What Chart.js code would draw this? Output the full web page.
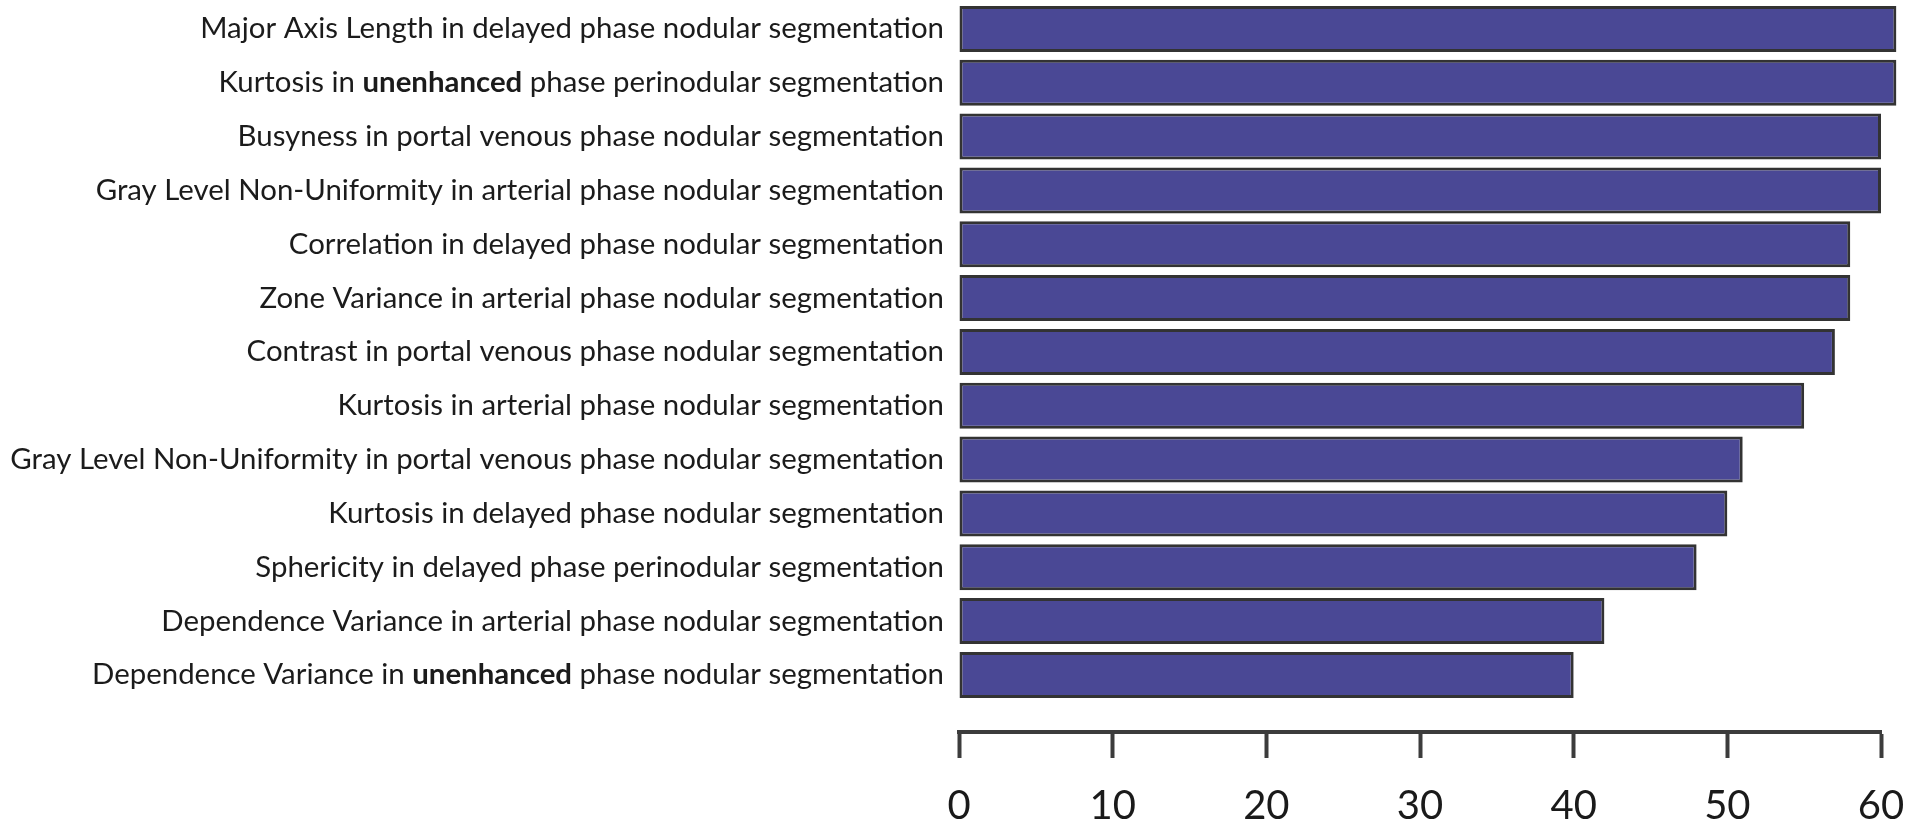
<!DOCTYPE html>
<html lang="en">
<head>
  <meta charset="UTF-8" />
  <title>Feature ranking</title>
  <script src="https://cdn.jsdelivr.net/npm/chart.js"></script>
  <style>
    html, body { margin: 0; padding: 0; background: #ffffff; }
    canvas { display: block; }
  </style>
</head>
<body>
  <canvas id="featureChart" width="1909" height="829"></canvas>

  <script>
    const featureLabels = [
      "Major Axis Length in delayed phase nodular segmentation",
      "Kurtosis in unenhanced phase perinodular segmentation",
      "Busyness in portal venous phase nodular segmentation",
      "Gray Level Non-Uniformity in arterial phase nodular segmentation",
      "Correlation in delayed phase nodular segmentation",
      "Zone Variance in arterial phase nodular segmentation",
      "Contrast in portal venous phase nodular segmentation",
      "Kurtosis in arterial phase nodular segmentation",
      "Gray Level Non-Uniformity in portal venous phase nodular segmentation",
      "Kurtosis in delayed phase nodular segmentation",
      "Sphericity in delayed phase perinodular segmentation",
      "Dependence Variance in arterial phase nodular segmentation",
      "Dependence Variance in unenhanced phase nodular segmentation"
    ];
    const featureValues = [61, 61, 60, 60, 58, 58, 57, 55, 51, 50, 48, 42, 40];
    const xTicks = [0, 10, 20, 30, 40, 50, 60];

    const FONT = "Lato, 'Open Sans', sans-serif";
    const BOLD_WORD = "unenhanced";

    // size the label font so the longest label fills the left margin
    const probe = document.createElement("canvas").getContext("2d");
    probe.font = "100px " + FONT;
    const longest = Math.max(...featureLabels.map(l => probe.measureText(l).width));
    const labelSize = Math.round(934 / longest * 100 * 10) / 10;

    // y labels drawn by hand so "unenhanced" can be bold
    const labelPlugin = {
      id: "featureLabels",
      afterDraw(chart) {
        const ctx = chart.ctx;
        const yScale = chart.scales.y;
        const right = chart.chartArea.left - 15;
        ctx.save();
        ctx.textBaseline = "middle";
        ctx.textAlign = "left";
        ctx.fillStyle = "#1b1b1b";
        featureLabels.forEach((label, i) => {
          const y = yScale.getPixelForValue(i);
          const parts = label.split(BOLD_WORD);
          const segs = [];
          parts.forEach((p, k) => {
            if (p) segs.push({ text: p, bold: false });
            if (k < parts.length - 1) segs.push({ text: BOLD_WORD, bold: true });
          });
          let total = 0;
          segs.forEach(s => {
            ctx.font = (s.bold ? "bold " : "") + labelSize + "px " + FONT;
            s.w = ctx.measureText(s.text).width;
            total += s.w;
          });
          let x = right - total;
          segs.forEach(s => {
            ctx.font = (s.bold ? "bold " : "") + labelSize + "px " + FONT;
            ctx.fillText(s.text, x, y);
            x += s.w;
          });
        });
        ctx.restore();
      }
    };

    const ctx = document.getElementById("featureChart").getContext("2d");
    new Chart(ctx, {
      type: "bar",
      data: {
        datasets: [{
          data: featureValues.map((v, i) => ({ x: v, y: i })),
          backgroundColor: "#4a4895",
          borderColor: "#333333",
          borderWidth: 3,
          borderSkipped: false,
          categoryPercentage: 0.855,
          barPercentage: 1,
          clip: false
        }]
      },
      options: {
        indexAxis: "y",
        responsive: false,
        animation: false,
        layout: { padding: { top: 2, right: 28, left: 0, bottom: 0 } },
        plugins: {
          legend: { display: false },
          tooltip: { enabled: false }
        },
        scales: {
          y: {
            type: "linear",
            reverse: true,
            offset: false,
            bounds: "data",
            min: -0.5,
            max: 13.06,
            ticks: { display: false, stepSize: 1, includeBounds: false },
            grid: { display: false, offset: false },
            border: { display: false },
            afterFit: s => { s.width = 959; }
          },
          x: {
            type: "linear",
            min: 0,
            max: 60,
            afterBuildTicks: s => { s.ticks = xTicks.map(v => ({ value: v })); },
            ticks: {
              color: "#1a1a1a",
              font: { family: FONT, size: 40 },
              padding: 24,
              maxRotation: 0
            },
            grid: {
              display: true,
              drawOnChartArea: false,
              drawTicks: true,
              tickLength: 26,
              tickWidth: 4,
              tickColor: "#3c3c3c"
            },
            border: { display: true, color: "#3c3c3c", width: 4 },
            afterFit: s => {
              s.height = 97;
              s.paddingLeft = 0;
              s.paddingRight = 0;
            }
          }
        }
      },
      plugins: [labelPlugin]
    });
  </script>
</body>
</html>
